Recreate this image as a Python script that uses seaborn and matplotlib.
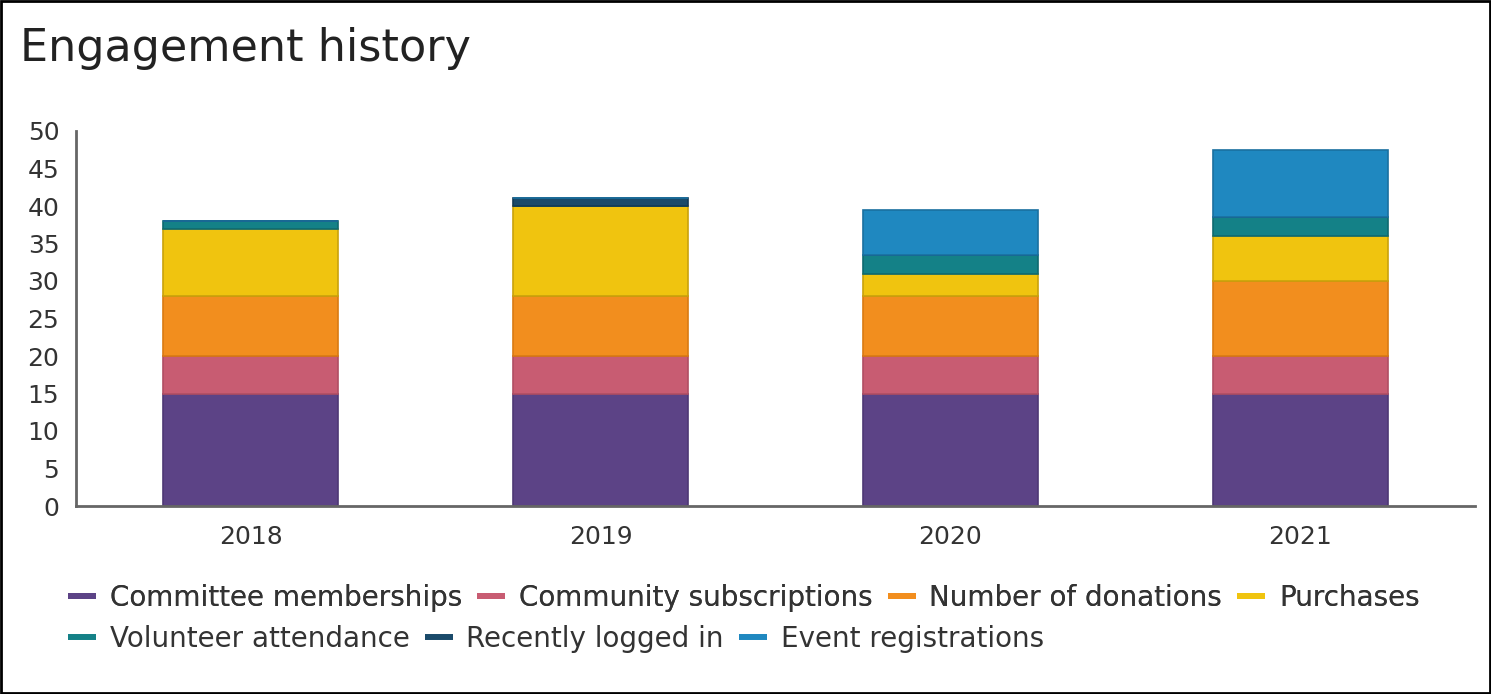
import pandas as pd
from matplotlib import pyplot as plt
from matplotlib.lines import Line2D
import seaborn as sns

years = ["2018", "2019", "2020", "2021"]
series_names = [
    "Committee memberships",
    "Community subscriptions",
    "Number of donations",
    "Purchases",
    "Volunteer attendance",
    "Recently logged in",
    "Event registrations",
]
committee = [15, 15, 15, 15]
community = [5, 5, 5, 5]
donations = [8, 8, 8, 10]
purchases = [9, 12, 3, 6]
volunteer = [1, 0, 2.5, 2.5]
logged_in = [0, 1.1, 0, 0]
events = [0, 0, 6, 9]

colors = ["#5C4386", "#C85C72", "#F28E1E", "#F0C40F", "#148187", "#1A4A6A", "#1F88C0"]
edges = ["#4E3875", "#B04E63", "#D97A12", "#C9A20C", "#0F6A70", "#123A55", "#1A70A0"]

sns.set_theme(style="white")
plt.rcParams["font.family"] = ["DejaVu Sans"]

df = pd.DataFrame({"year": years})
values = [committee, community, donations, purchases, volunteer, logged_in, events]
for name, vals in zip(series_names, values):
    df[name] = vals

fig = plt.figure(figsize=(14.91, 6.94), dpi=100)
ax = fig.add_axes([76 / 1491, (694 - 506) / 694, (1475 - 76) / 1491, (506 - 131) / 694])

# stacked bars, one seaborn call per series
bottom = [0, 0, 0, 0]
for name, c, ec in zip(series_names, colors, edges):
    sns.barplot(data=df, x="year", y=name, bottom=bottom, color=c, edgecolor=ec,
                linewidth=1.2, width=0.5, saturation=1, ax=ax)
    bottom = [b + v for b, v in zip(bottom, df[name])]

ax.set_ylim(0, 50)
ax.set_xlim(-0.5, 3.5)
ax.set_yticks(range(0, 51, 5))
ax.set_xlabel("")
ax.set_ylabel("")
for s in ["top", "right"]:
    ax.spines[s].set_visible(False)
for s in ["left", "bottom"]:
    ax.spines[s].set_color("#666666")
    ax.spines[s].set_linewidth(2)
ax.tick_params(axis="both", length=0, labelsize=18, colors="#333333")
ax.tick_params(axis="x", pad=14)
ax.tick_params(axis="y", pad=12)

fig.text(20 / 1491, 1 - 48 / 694, "Engagement history", fontsize=32,
         color="#222222", va="center", ha="left")

# legend in two left-aligned rows
handles = [Line2D([0], [0], color=c, lw=4.3, solid_capstyle="butt") for c in colors]
legend_kw = dict(loc="center left", frameon=False, fontsize=20, handlelength=1.0,
                 handletextpad=0.5, columnspacing=0.55, labelcolor="#333333",
                 borderpad=0, borderaxespad=0)
leg1 = fig.legend(handles[:4], series_names[:4], ncol=4,
                  bbox_to_anchor=(68 / 1491, 1 - 598 / 694), **legend_kw)
leg2 = fig.legend(handles[4:], series_names[4:], ncol=3,
                  bbox_to_anchor=(68 / 1491, 1 - 639 / 694), **legend_kw)
fig.add_artist(leg1)

fig.patches.append(plt.Rectangle((0.001, 0.001), 0.998, 0.998, transform=fig.transFigure,
                                 fill=False, edgecolor="black", linewidth=2))

plt.savefig("out.png", dpi=100)
